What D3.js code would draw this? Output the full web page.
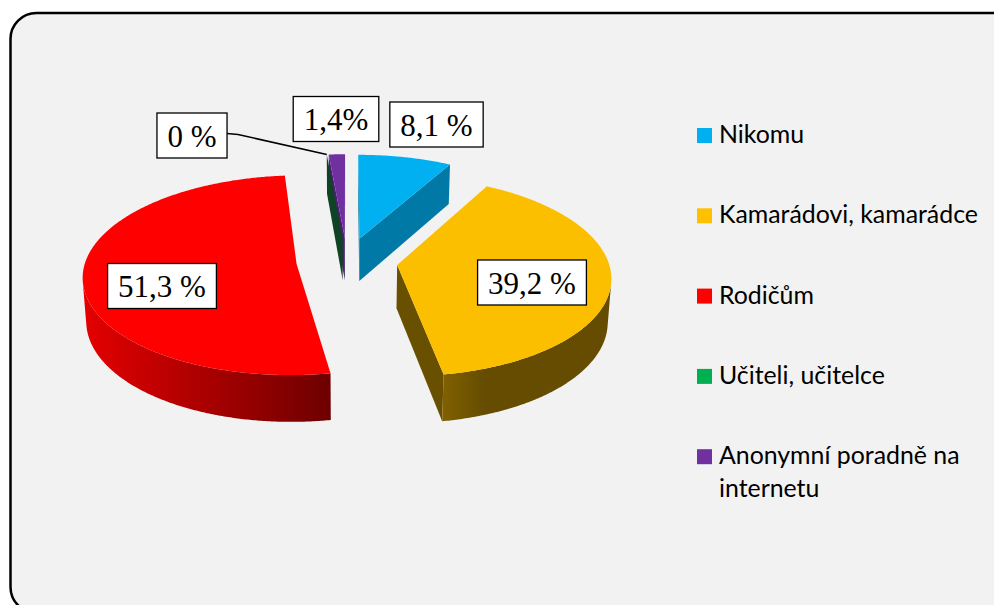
<!DOCTYPE html>
<html><head><meta charset="utf-8">
<script src="https://cdn.jsdelivr.net/npm/d3@7"></script>
<style>html,body{margin:0;padding:0;background:#fff;} svg{display:block;}</style>
</head><body>
<svg id="chart" width="994" height="605"></svg>
<script>
// ---- data ----
const categories = ["Nikomu", "Kamarádovi, kamarádce", "Rodičům", "Učiteli, učitelce", "Anonymní poradně na internetu"];
const values = [8.1, 39.2, 51.3, 0, 1.4];
const labels = ["8,1 %", "39,2 %", "51,3 %", "0 %", "1,4%"];

// ---- styles ----
const topColors = ["#00B0F0", "#FBBF00", "#FF0000", "#00B050", "#7030A0"];
const legendColors = ["#00B0F0", "#FFC000", "#FF0000", "#00B050", "#7030A0"];
const faceColors = ["#0079A6", "#685000", "#8A0000", "#0E4324", "#4B2070"];

const svg = d3.select("#chart");
const defs = svg.append("defs");
function grad(id, x1, x2, c1, c2) {
  const gr = defs.append("linearGradient").attr("id", id).attr("gradientUnits", "userSpaceOnUse")
    .attr("x1", x1).attr("x2", x2).attr("y1", 0).attr("y2", 0);
  gr.append("stop").attr("offset", 0).attr("stop-color", c1);
  gr.append("stop").attr("offset", 1).attr("stop-color", c2);
}
grad("wall2", 86, 326, "#E30000", "#700000");
grad("wall1", 437, 485, "#846300", "#654C00");

svg.append("rect").attr("x", 10.5).attr("y", 13).attr("width", 1010).attr("height", 600)
  .attr("rx", 26).attr("fill", "#F2F2F2").attr("stroke", "#000").attr("stroke-width", 2.5);

// ---- perspective projection of a 3D disc ----
const cx = 347, cy = 261, sinA = 0.464, cosA = 0.886, dist = 7.97, foc = 1683, thick = 0.233, explode = 0.24;
function proj(X, Y, Z) {
  const yc = Y * sinA + Z * cosA, dp = dist + Y * cosA - Z * sinA;
  return [cx + foc * X / dp, cy - foc * yc / dp, dp];
}
const cam = [0, -dist * cosA, dist * sinA];
function visible(P, n) { return (cam[0] - P[0]) * n[0] + (cam[1] - P[1]) * n[1] > 0; }

const arcs = d3.pie().sort(null).value(d => d)(values);
const deg = Math.PI / 180;
const step = 0.5 * deg;

function wallFill(i) {
  if (i === 2) return "url(#wall2)";
  if (i === 1) return "url(#wall1)";
  return faceColors[i];
}

const faces = [], tops = [];
arcs.forEach((a, i) => {
  const a0 = a.startAngle, a1 = a.endAngle, mid = (a0 + a1) / 2;
  const off = [explode * Math.sin(mid), explode * Math.cos(mid)];
  const rim = (t, Z) => proj(off[0] + Math.sin(t), off[1] + Math.cos(t), Z);
  const ctr = Z => proj(off[0], off[1], Z);
  a.off = off; a.rim = rim;
  const n = Math.max(1, Math.ceil((a1 - a0) / step));
  // top face
  const tp = [ctr(0)];
  for (let k = 0; k <= n; k++) tp.push(rim(a0 + (a1 - a0) * k / n, 0));
  if (a1 > a0) tops.push({ pts: tp, fill: topColors[i] });
  // curved wall: contiguous visible runs as single polygons
  if (a1 > a0) {
    let run = [];
    const flush = () => {
      if (run.length > 1) {
        const topEdge = run.map(t => rim(t, 0));
        const botEdge = run.slice().reverse().map(t => rim(t, -thick));
        const q = topEdge.concat(botEdge);
        faces.push({ pts: q, fill: wallFill(i), depth: d3.mean(q, p => p[2]), idx: i });
      }
      run = [];
    };
    for (let k = 0; k <= n; k++) {
      const t = a0 + (a1 - a0) * k / n;
      const nrm = [Math.sin(t), Math.cos(t)];
      if (visible([off[0] + nrm[0], off[1] + nrm[1]], nrm)) run.push(t);
      else flush();
    }
    flush();
  }
  // radial faces
  [[a0, a0 - Math.PI / 2], [a1, a1 + Math.PI / 2]].forEach(([t, na]) => {
    const nrm = [Math.sin(na), Math.cos(na)];
    const P = [off[0] + 0.5 * Math.sin(t), off[1] + 0.5 * Math.cos(t)];
    if (!visible(P, nrm)) return;
    const q = [ctr(0), rim(t, 0), rim(t, -thick), ctr(-thick)];
    faces.push({ pts: q, fill: faceColors[i], depth: d3.mean(q, p => p[2]), idx: i });
  });
});

faces.sort((p, q) => (Math.abs(p.depth - q.depth) < 0.02 && p.idx !== q.idx) ? q.idx - p.idx : q.depth - p.depth);
const line = d3.line().x(p => p[0]).y(p => p[1]);
const g = svg.append("g");
g.selectAll("path.face").data(faces).join("path").attr("class", "face")
  .attr("d", d => line(d.pts) + "Z").attr("fill", d => d.fill);
g.selectAll("path.top").data(tops).join("path").attr("class", "top")
  .attr("d", d => line(d.pts) + "Z").attr("fill", d => d.fill);

// ---- data labels ----
const labelCenters = [[436.5, 124.5], [532, 282.5], [162, 286], [192, 135.5], [336, 119]];
const lg = svg.append("g");
labels.forEach((txt, i) => {
  const [lx, ly] = labelCenters[i];
  const box = lg.append("rect");
  const t = lg.append("text").attr("x", lx).attr("y", ly + 11).attr("text-anchor", "middle")
    .attr("font-family", "'Liberation Serif','Times New Roman',serif").attr("font-size", 31).attr("fill", "#000").text(txt);
  const w = t.node().getComputedTextLength() + 21, h = 45;
  box.attr("x", lx - w / 2).attr("y", ly - h / 2).attr("width", w).attr("height", h)
    .attr("fill", "#fff").attr("stroke", "#000").attr("stroke-width", 1.3);
  if (values[i] === 0) {
    const a = arcs[i];
    const end = a.rim(a.startAngle, 0);
    const sx = lx + w / 2;
    lg.insert("path", ":first-child").attr("d", line([[sx, ly - 2], [sx + 11, ly - 1], [end[0], end[1]]]))
      .attr("fill", "none").attr("stroke", "#000").attr("stroke-width", 1.5);
  }
});

// ---- legend ----
const leg = svg.append("g");
const legFont = "Lato, 'Open Sans', sans-serif";
const probe = leg.append("text").attr("font-family", legFont).attr("font-size", 20).text(categories[1]);
const legSize = 20 * 259 / probe.node().getComputedTextLength();
probe.remove();
categories.forEach((c, i) => {
  const base = 143 + i * 80.3;
  leg.append("rect").attr("x", 697).attr("y", base - 15).attr("width", 15).attr("height", 15).attr("fill", legendColors[i]);
  const t = leg.append("text").attr("x", 719).attr("y", base).attr("font-family", legFont)
    .attr("font-size", legSize).attr("fill", "#000");
  const words = c.split(" ");
  let lineWords = [], lines = [];
  words.forEach(wd => {
    const test = lineWords.concat([wd]).join(" ");
    t.text(test);
    if (t.node().getComputedTextLength() > 265 && lineWords.length) { lines.push(lineWords.join(" ")); lineWords = [wd]; }
    else lineWords.push(wd);
  });
  lines.push(lineWords.join(" "));
  t.text(null);
  lines.forEach((ln, k) => t.append("tspan").attr("x", 719).attr("dy", k ? 33 : 0).text(ln));
});
</script>
</body></html>
